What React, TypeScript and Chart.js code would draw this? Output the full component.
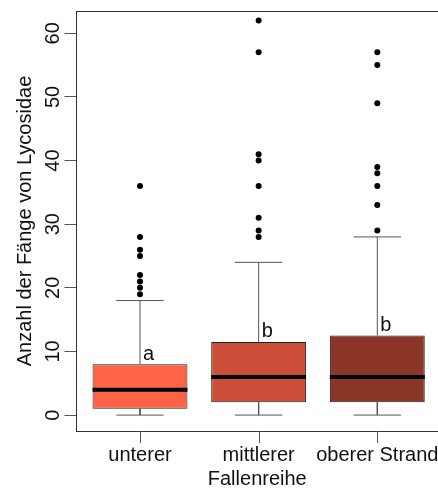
import React, { useEffect, useRef } from "react";
import { Chart, registerables } from "chart.js";

Chart.register(...registerables);

// Trap rows and their five-number summaries (Lycosidae catches)
const categories = ["unterer", "mittlerer", "oberer Strand"];
const lowerWhisker = [0, 0, 0];
const lowerQuartile = [1, 2, 2];
const medians = [4, 6, 6];
const upperQuartile = [8, 11.5, 12.5];
const upperWhisker = [18, 24, 28];

// Values beyond the whiskers
const outliersUnterer = [36, 28, 26, 25, 22, 21, 20, 19];
const outliersMittlerer = [62, 57, 41, 40, 36, 31, 29, 28];
const outliersOberer = [57, 55, 49, 39, 38, 36, 33, 29];
const outlierGroups = [outliersUnterer, outliersMittlerer, outliersOberer];

// Significance letters above each box
const groupLetters = ["a", "b", "b"];

const yTicks = [0, 10, 20, 30, 40, 50, 60];
const boxColors = ["#FF6347", "#CD4F39", "#8B3626"];

const FONT = "'Liberation Sans', Arial, Helvetica, sans-serif";
const FONT_SIZE = 20;
const BOX_HALF = 0.4;
const CAP_HALF = 0.2;
const TICK_LEN = 12;

const pos = (i: number) => i + 1;

const medianSegments = categories.flatMap((_, i) => [
  { x: pos(i) - BOX_HALF, y: medians[i] },
  { x: pos(i) + BOX_HALF, y: medians[i] },
  { x: pos(i) + 0.5, y: null },
]);

const whiskerSegments = categories.flatMap((_, i) => [
  { x: pos(i), y: upperQuartile[i] },
  { x: pos(i), y: upperWhisker[i] },
  { x: pos(i), y: null },
  { x: pos(i) - CAP_HALF, y: upperWhisker[i] },
  { x: pos(i) + CAP_HALF, y: upperWhisker[i] },
  { x: pos(i) + 0.3, y: null },
  { x: pos(i), y: lowerQuartile[i] },
  { x: pos(i), y: lowerWhisker[i] },
  { x: pos(i), y: null },
  { x: pos(i) - CAP_HALF, y: lowerWhisker[i] },
  { x: pos(i) + CAP_HALF, y: lowerWhisker[i] },
  { x: pos(i) + 0.3, y: null },
]);

const outlierPoints = outlierGroups.flatMap((vals, i) =>
  vals.map((v) => ({ x: pos(i), y: v }))
);

const boxPoints = categories.map((_, i) => ({
  x: pos(i),
  y: [lowerQuartile[i], upperQuartile[i]],
}));

// Top frame line, category tick marks and group letters
const annotate = {
  id: "annotate",
  afterDraw(chart: any) {
    const { ctx, chartArea, scales } = chart;
    ctx.save();
    ctx.lineWidth = 1;
    ctx.strokeStyle = "#333";
    ctx.beginPath();
    ctx.moveTo(chartArea.left, chartArea.top + 0.5);
    ctx.lineTo(chartArea.right, chartArea.top + 0.5);
    ctx.stroke();

    ctx.strokeStyle = "#555";
    categories.forEach((_, i) => {
      const x = Math.round(scales.x.getPixelForValue(pos(i))) + 0.5;
      ctx.beginPath();
      ctx.moveTo(x, chartArea.bottom);
      ctx.lineTo(x, chartArea.bottom + TICK_LEN);
      ctx.stroke();
    });

    ctx.fillStyle = "#111";
    ctx.font = `${FONT_SIZE}px ${FONT}`;
    ctx.textAlign = "left";
    ctx.textBaseline = "alphabetic";
    groupLetters.forEach((letter, i) => {
      const x = scales.x.getPixelForValue(pos(i)) + 3;
      const y = scales.y.getPixelForValue(upperQuartile[i] + 0.7);
      ctx.fillText(letter, x, y);
    });
    ctx.restore();
  },
};

export default function App() {
  const canvasRef = useRef<HTMLCanvasElement | null>(null);

  useEffect(() => {
    if (!canvasRef.current) return;
    const chart = new Chart(canvasRef.current, {
      type: "scatter",
      data: {
        datasets: [
          {
            type: "scatter",
            data: outlierPoints,
            backgroundColor: "#000",
            borderWidth: 0,
            pointRadius: 3,
            order: 0,
          } as any,
          {
            type: "line",
            data: medianSegments,
            borderColor: "#000",
            borderWidth: 4,
            borderCapStyle: "butt",
            pointRadius: 0,
            spanGaps: false,
            fill: false,
            tension: 0,
            order: 1,
          } as any,
          {
            type: "bar",
            data: boxPoints,
            backgroundColor: boxColors,
            borderColor: "#222",
            borderWidth: 1,
            borderSkipped: false,
            categoryPercentage: 1,
            barPercentage: 0.8,
            grouped: false,
            order: 2,
          } as any,
          {
            type: "line",
            data: whiskerSegments,
            borderColor: "#555",
            borderWidth: 1,
            pointRadius: 0,
            spanGaps: false,
            fill: false,
            tension: 0,
            order: 3,
          } as any,
        ],
      },
      options: {
        animation: false,
        responsive: true,
        maintainAspectRatio: false,
        layout: {
          autoPadding: false,
          padding: { top: 11, left: 0, right: 0, bottom: 0 },
        },
        plugins: {
          legend: { display: false },
          tooltip: { enabled: false },
        },
        scales: {
          x: {
            type: "linear",
            min: 0.4648,
            max: 3.5116,
            offset: false,
            afterBuildTicks: (s: any) => {
              s.ticks = categories.map((_, i) => ({ value: pos(i) }));
            },
            afterFit: (s: any) => {
              s.height = 62;
              s.paddingLeft = 0;
              s.paddingRight = 0;
            },
            ticks: {
              callback: (v: any) => categories[Math.round(Number(v)) - 1] ?? "",
              autoSkip: false,
              maxRotation: 0,
              minRotation: 0,
              padding: TICK_LEN,
              color: "#111",
              font: { family: FONT, size: FONT_SIZE },
            },
            grid: {
              offset: false,
              drawOnChartArea: false,
              drawTicks: false,
              tickLength: TICK_LEN,
              color: "#555",
            },
            border: { display: true, color: "#333", width: 1 },
            title: {
              display: true,
              text: "Fallenreihe",
              color: "#111",
              font: { family: FONT, size: FONT_SIZE },
              padding: { top: 0, bottom: 1.5 },
            },
          },
          y: {
            type: "linear",
            min: -2.5,
            max: 63.5,
            afterBuildTicks: (s: any) => {
              s.ticks = yTicks.map((v) => ({ value: v }));
            },
            afterFit: (s: any) => {
              s.width = 76.5;
              s.paddingTop = 0;
              s.paddingBottom = 0;
            },
            ticks: {
              minRotation: 90,
              maxRotation: 90,
              crossAlign: "center",
              padding: 0,
              color: "#111",
              font: { family: FONT, size: FONT_SIZE },
            },
            grid: {
              offset: false,
              drawOnChartArea: false,
              drawTicks: true,
              tickLength: TICK_LEN,
              color: "#555",
            },
            border: { display: true, color: "#333", width: 1 },
            title: {
              display: true,
              text: "Anzahl der Fänge von Lycosidae",
              color: "#111",
              font: { family: FONT, size: FONT_SIZE },
              padding: { top: 13, bottom: 0 },
            },
          },
        },
      },
      plugins: [annotate],
    });
    return () => chart.destroy();
  }, []);

  return (
    <div
      style={{
        position: "absolute",
        left: 0,
        top: 0,
        width: 438,
        height: 493,
        background: "#fff",
      }}
    >
      <canvas ref={canvasRef} />
    </div>
  );
}
